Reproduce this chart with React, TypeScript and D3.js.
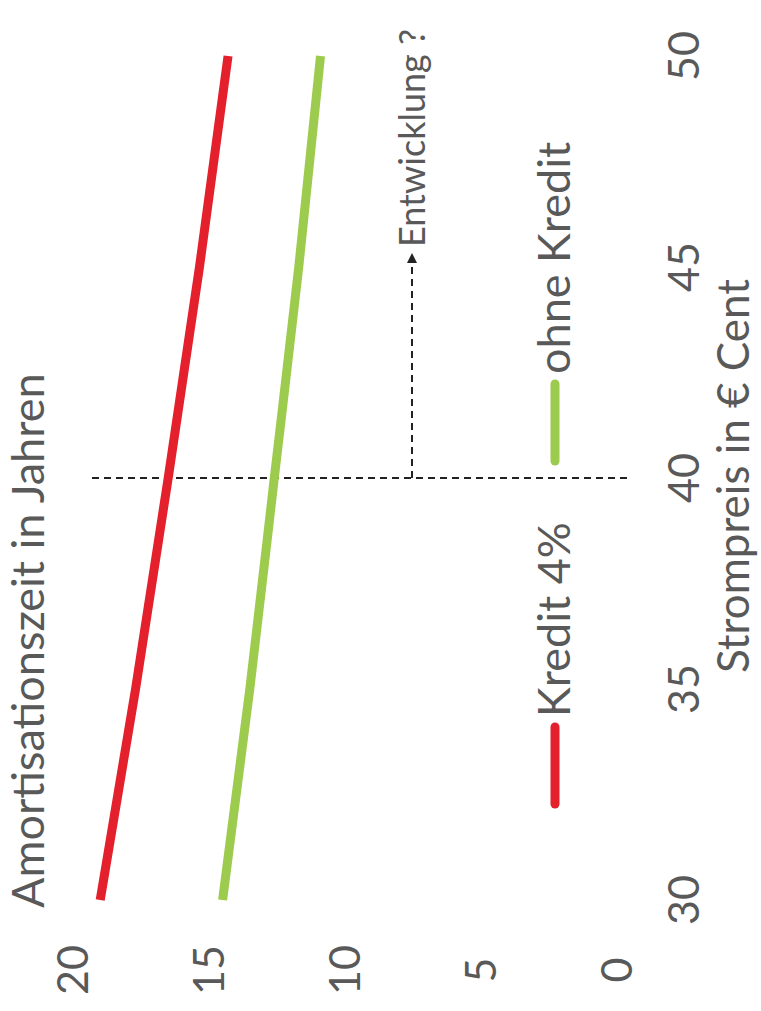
import * as d3 from "d3";
import React, { useEffect, useRef } from "react";

// Strompreis (x) und Amortisationszeit (y)
const prices = [30, 35, 40, 45, 50];
const kredit = [19.0, 17.7, 16.5, 15.35, 14.3];
const ohneKredit = [14.5, 13.5, 12.6, 11.7, 10.9];
const yearTicks = [0, 5, 10, 15, 20];
const priceTicks = [30, 35, 40, 45, 50];
const seriesNames = ["Kredit 4%", "ohne Kredit"];
const seriesColors = ["#e3202c", "#9dcb4e"];
const markPrice = 40;

// chart is drawn landscape and rotated -90deg into the portrait page
const W = 1011;
const H = 761;
const textColor = "#595959";
const font = "Lato, 'Open Sans', sans-serif";

function Chart() {
  const ref = useRef<SVGSVGElement | null>(null);

  useEffect(() => {
    if (!ref.current) return;
    const svg = d3.select(ref.current);
    svg.selectChildren().remove();

    const x = d3.scaleLinear().domain([30, 50]).range([111, 955]);
    const y = d3.scaleLinear().domain([0, 20]).range([617, 73]);

    const line = d3
      .line<number>()
      .x((d, i) => x(prices[i]))
      .y((d) => y(d))
      .curve(d3.curveMonotoneX);

    svg
      .append("defs")
      .append("marker")
      .attr("id", "arrow")
      .attr("viewBox", "0 0 10 10")
      .attr("refX", 9)
      .attr("refY", 5)
      .attr("markerWidth", 5)
      .attr("markerHeight", 5)
      .attr("orient", "auto")
      .append("path")
      .attr("d", "M0,0 L10,5 L0,10 z")
      .style("fill", "#222");

    const g = svg.append("g").attr("transform", `translate(0,${W}) rotate(-90)`);

    // title
    g.append("text")
      .attr("x", 103)
      .attr("y", 44)
      .attr("font-size", 45)
      .attr("fill", textColor)
      .text("Amortisationszeit in Jahren");

    // y tick labels
    g.append("g")
      .selectAll("text")
      .data(yearTicks)
      .join("text")
      .attr("x", 41)
      .attr("y", (d) => y(d) + 15)
      .attr("text-anchor", "middle")
      .attr("font-size", 43)
      .attr("fill", textColor)
      .text((d) => d);

    // x tick labels
    g.append("g")
      .selectAll("text")
      .data(priceTicks)
      .join("text")
      .attr("x", (d) => x(d))
      .attr("y", 699)
      .attr("text-anchor", "middle")
      .attr("font-size", 43)
      .attr("fill", textColor)
      .text((d) => d);

    g.append("text")
      .attr("x", x(40) + 2)
      .attr("y", 749)
      .attr("text-anchor", "middle")
      .attr("font-size", 44)
      .attr("fill", textColor)
      .text("Strompreis in € Cent");

    // dashed marker at 40 ct
    g.append("line")
      .attr("x1", x(markPrice))
      .attr("x2", x(markPrice))
      .attr("y1", 92)
      .attr("y2", 630)
      .attr("stroke", "#222")
      .attr("stroke-width", 2)
      .attr("stroke-dasharray", "7 5");

    g.append("line")
      .attr("x1", x(markPrice))
      .attr("x2", 757)
      .attr("y1", 412)
      .attr("y2", 412)
      .attr("stroke", "#222")
      .attr("stroke-width", 2)
      .attr("stroke-dasharray", "7 5")
      .attr("marker-end", "url(#arrow)");

    g.append("text")
      .attr("x", 764)
      .attr("y", 425)
      .attr("font-size", 36)
      .attr("fill", textColor)
      .text("Entwicklung ?");

    // series
    g.append("g")
      .attr("fill", "none")
      .selectAll("path")
      .data([kredit, ohneKredit])
      .join("path")
      .attr("d", (d) => line(d))
      .attr("stroke", (d, i) => seriesColors[i])
      .attr("stroke-width", 9);

    // legend
    const legendX = [207, 550];
    const leg = g
      .append("g")
      .selectAll("g")
      .data(seriesNames)
      .join("g")
      .attr("transform", (d, i) => `translate(${legendX[i]},555)`);
    leg
      .append("line")
      .attr("x1", 0)
      .attr("x2", 77)
      .attr("stroke", (d, i) => seriesColors[i])
      .attr("stroke-width", 9)
      .attr("stroke-linecap", "round");
    leg
      .append("text")
      .attr("x", 87)
      .attr("y", 15)
      .attr("font-size", 45)
      .attr("fill", textColor)
      .text((d) => d);
  }, []);

  return (
    <svg
      ref={ref}
      width={H}
      height={W}
      style={{ position: "absolute", left: 0, top: 0, fontFamily: font, background: "#fff" }}
    />
  );
}

export default function App() {
  return <Chart />;
}
